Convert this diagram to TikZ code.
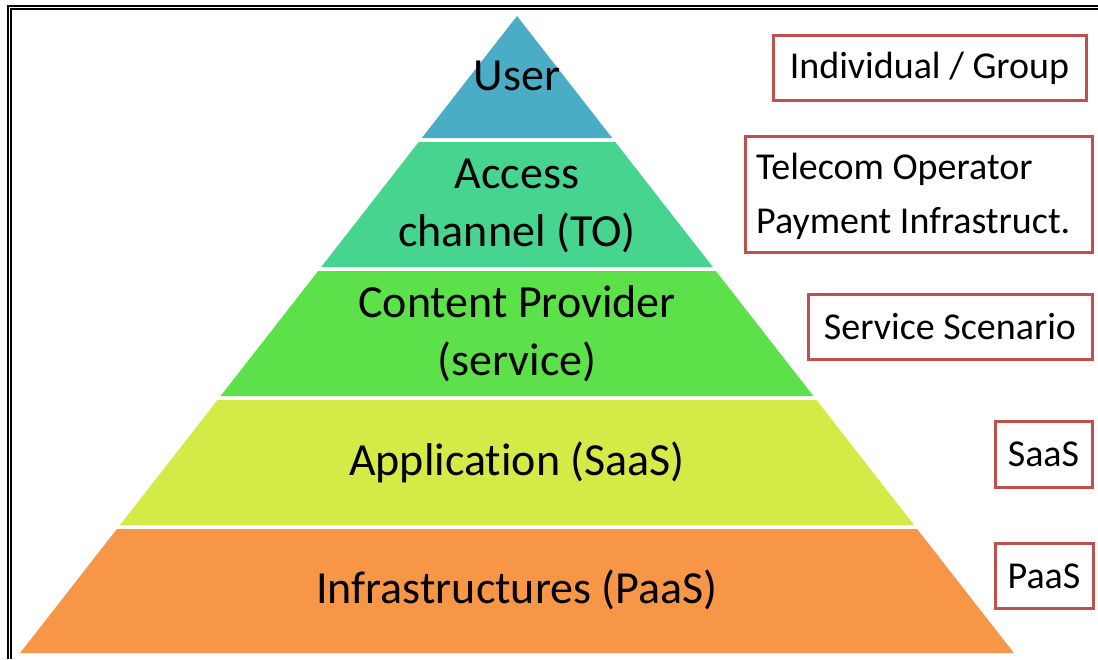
\documentclass[tikz,border=0pt]{standalone}
\usepackage{fontspec}
\setmainfont[Ligatures=NoCommon]{Carlito}
\definecolor{cuser}{HTML}{4BACC6}
\definecolor{caccess}{HTML}{47D48F}
\definecolor{ccontent}{HTML}{5DE14B}
\definecolor{capp}{HTML}{D4EB47}
\definecolor{cinfra}{HTML}{F79646}
\definecolor{cbox}{HTML}{C0504D}
\begin{document}
\begin{tikzpicture}[x=1pt,y=-1pt,
  layer/.style={draw=none},
  laytext/.style={font=\fontsize{46}{58}\selectfont, align=center, inner sep=0pt, text=black},
  tagbox/.style={draw=cbox, line width=3pt, fill=white},
  tagtext/.style={font=\fontsize{38}{54}\selectfont, inner sep=0pt, text=black},
  frameline/.style={line width=1.2pt, black}]
\useasboundingbox (0,0) rectangle (1098,659);
\fill[white] (0,0) rectangle (1098,659);
% frame
\draw[frameline] (8,659) -- (8,6) -- (1098,6);
\draw[frameline] (11,659) -- (11,9) -- (1098,9);
% pyramid layers
\fill[layer, cuser] (517,16) -- (612.2,138) -- (421.8,138) -- cycle;
\fill[layer, caccess] (418.7,142) -- (615.3,142) -- (712.8,267) -- (321.2,267) -- cycle;
\fill[layer, ccontent] (318.1,271) -- (715.9,271) -- (813.4,396) -- (220.6,396) -- cycle;
\fill[layer, capp] (217.5,400) -- (816.5,400) -- (914,525) -- (120,525) -- cycle;
\fill[layer, cinfra] (116.9,529) -- (917.1,529) -- (1013.9,653) -- (20.1,653) -- cycle;
% layer texts
\node[laytext] (user) at (517,76) {User};
\node[laytext] (access) at (517,206) {Access\\channel (TO)};
\node[laytext] (content) at (517,334) {Content Provider\\(service)};
\node[laytext] (app) at (517,462) {Application (SaaS)};
\node[laytext] (infra) at (517,590) {Infrastructures (PaaS)};
% right boxes
\draw[tagbox] (773,35) rectangle (1086,100);
\node[tagtext] (b1) at (929.5,68) {Individual / Group};
\draw[tagbox] (745,136) rectangle (1092,252);
\node[tagtext, align=left, anchor=west] (b2) at (756,196) {Telecom Operator\\Payment Infrastruct.};
\draw[tagbox] (808,294) rectangle (1092,359);
\node[tagtext] (b3) at (950,327) {Service Scenario};
\draw[tagbox] (995,421) rectangle (1092,487);
\node[tagtext] (b4) at (1043.5,454) {SaaS};
\draw[tagbox] (995,543) rectangle (1093,608);
\node[tagtext] (b5) at (1044,576) {PaaS};
\end{tikzpicture}
\end{document}
